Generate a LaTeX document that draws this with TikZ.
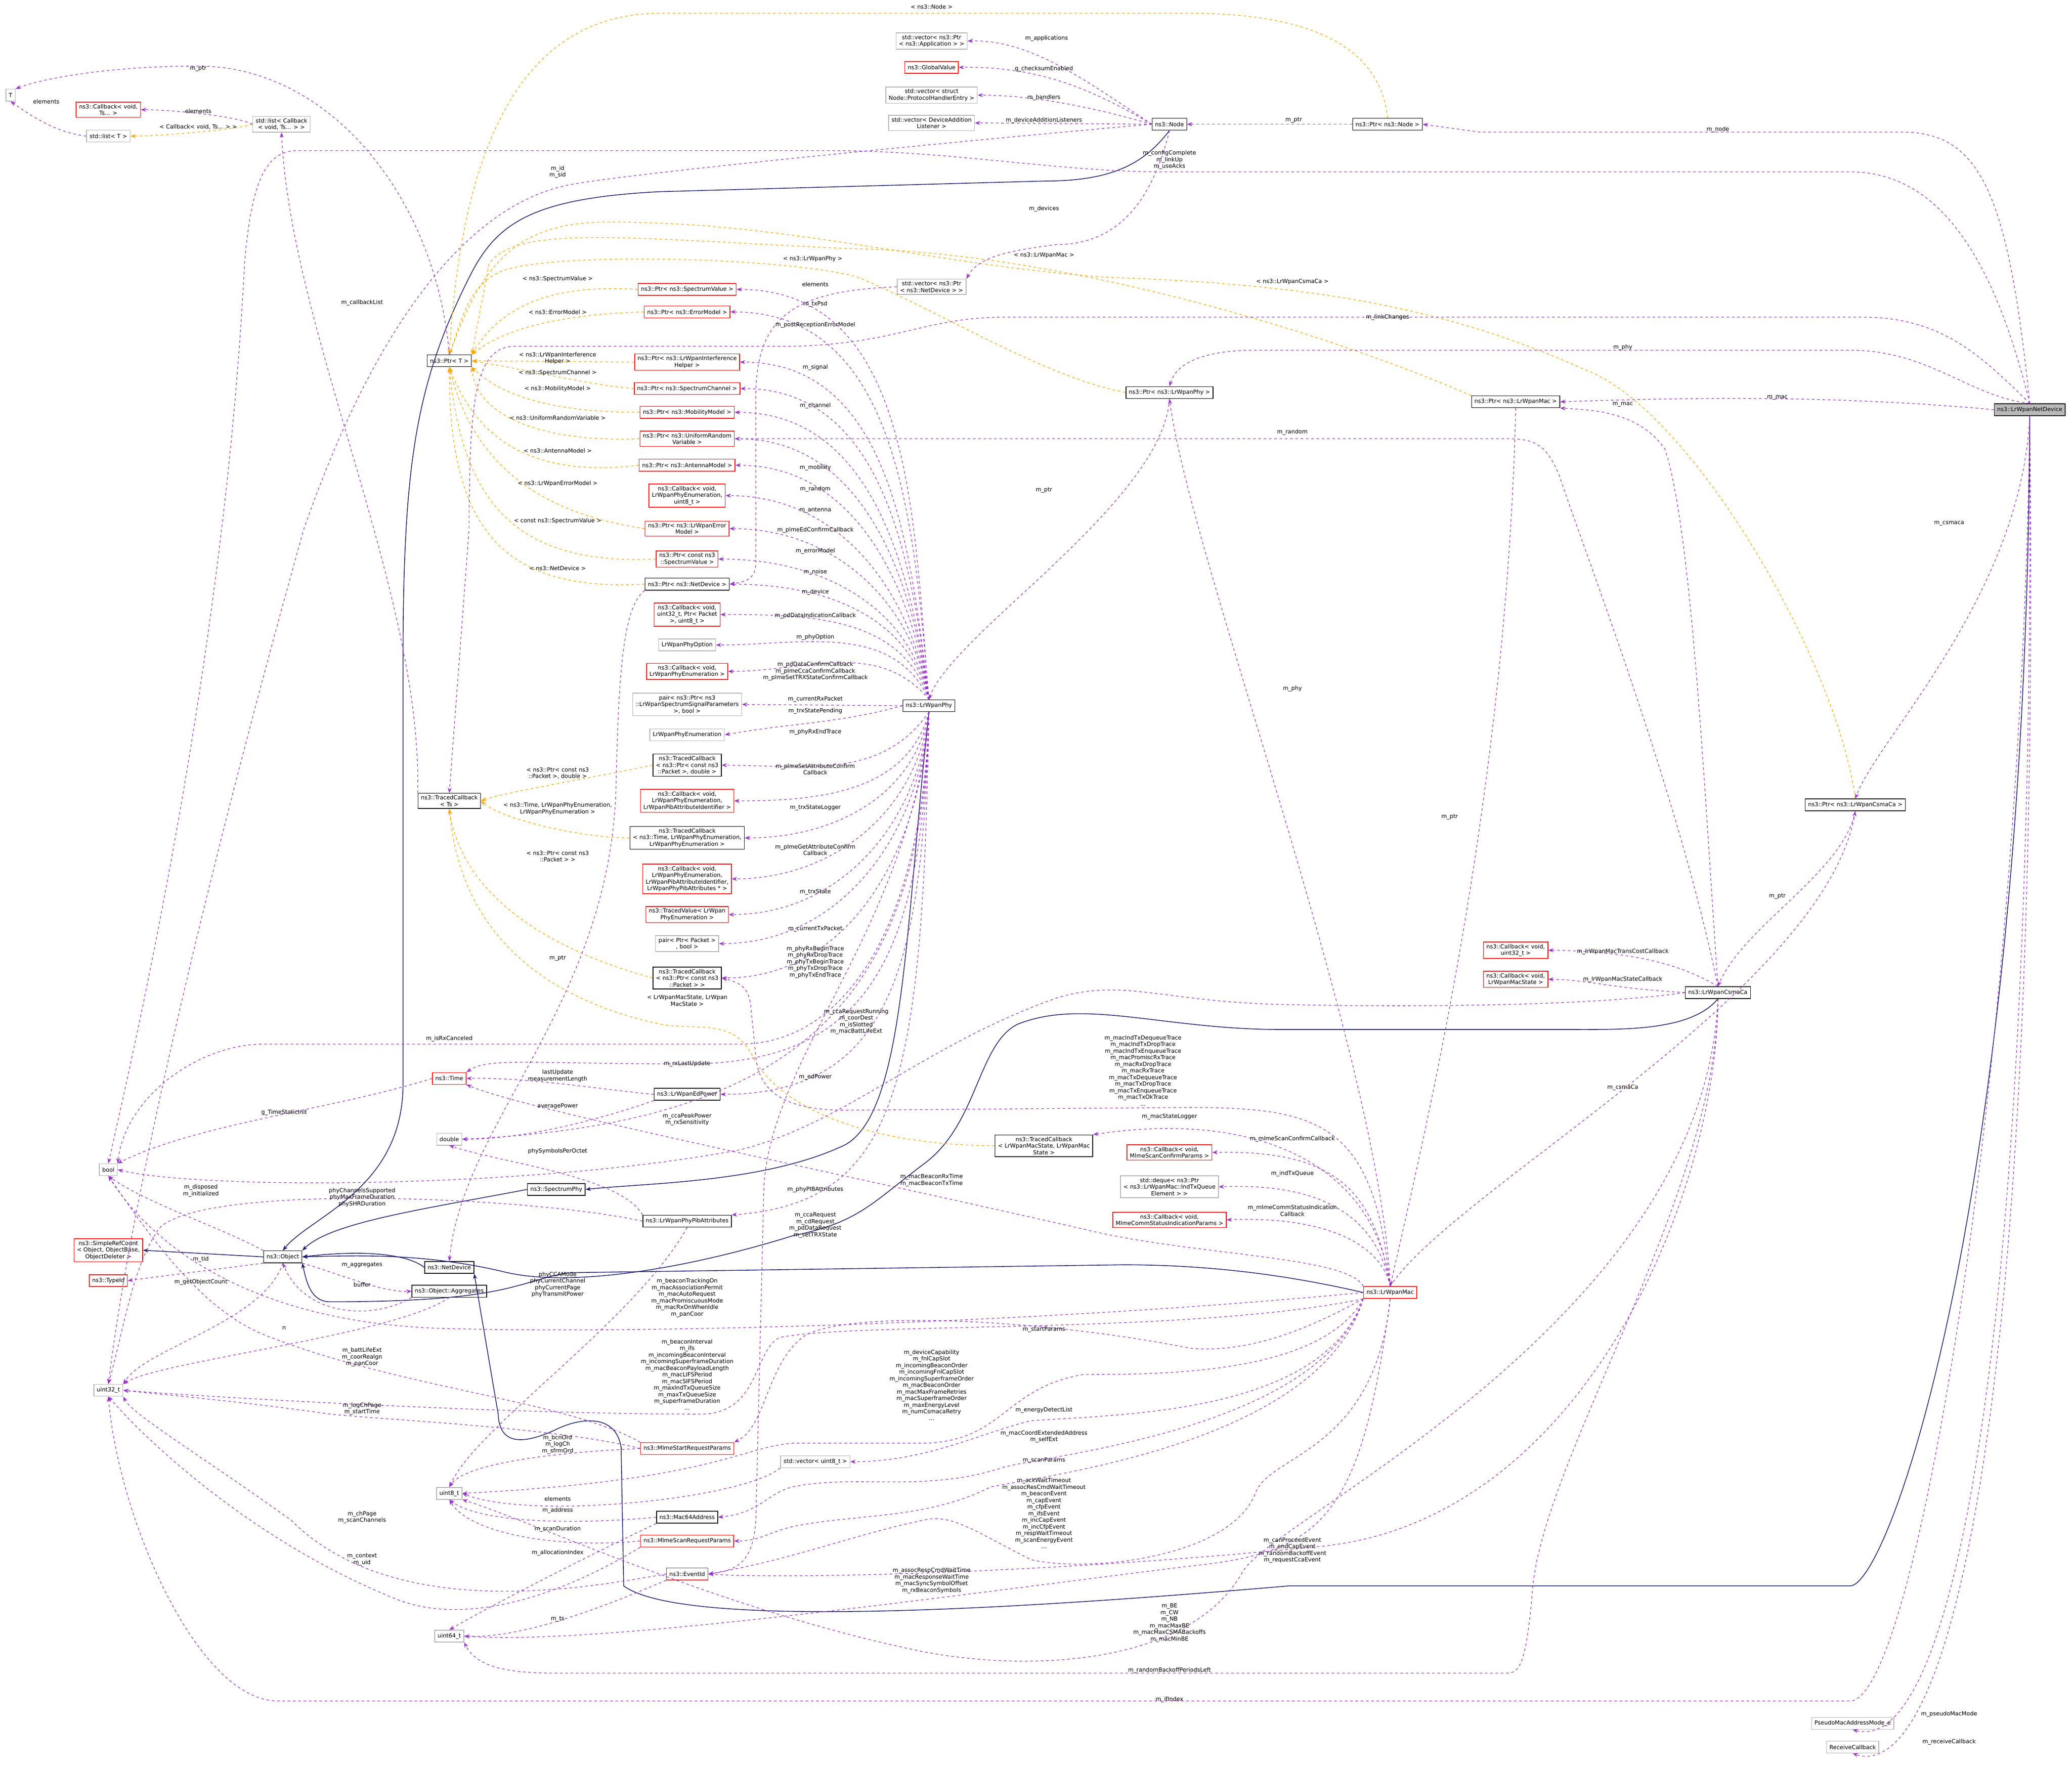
\documentclass[tikz,border=0pt]{standalone}
\usepackage{fontspec}
\setmainfont{DejaVu Sans}
\usetikzlibrary{arrows.meta}
\definecolor{purp}{HTML}{9A32CD}
\definecolor{orng}{HTML}{FFA500}
\definecolor{navyc}{HTML}{191970}
\tikzset{
  every node/.style={font=\fontsize{4.3}{5}\selectfont},
  box/.style={draw=black,fill=white,align=center,inner xsep=2.2pt,inner ysep=1.6pt,minimum height=9pt,line width=0.5pt},
  rbox/.style={box,draw=red},
  gbox/.style={box,draw=gray!60},
  lab/.style={align=center,inner sep=0pt},
  mem/.style={purp,dash pattern=on 2pt off 2pt,line width=0.45pt,-{Stealth[length=4pt,width=3pt]}},
  inst/.style={orng,dash pattern=on 2pt off 2pt,line width=0.45pt,-{Stealth[length=4pt,width=3pt]}},
  inh/.style={navyc,line width=0.55pt,-{Stealth[length=4pt,width=3pt]}},
}
\begin{document}
\begin{tikzpicture}[x=1pt,y=-1pt]
\useasboundingbox (0,0) rectangle (1568,1336);
% ---------------- nodes
\node[gbox] (T) at (8,72) {T};
\node[rbox] (CbTs) at (82,83) {ns3::Callback< void,\\ Ts... >};
\node[gbox] (listT) at (82,103) {std::list< T >};
\node[gbox] (listCb) at (213,94) {std::list< Callback\\< void, Ts... > >};
\node[gbox] (vecApp) at (705,31) {std::vector< ns3::Ptr\\< ns3::Application > >};
\node[rbox] (GV) at (705,51) {ns3::GlobalValue};
\node[gbox] (Proto) at (705,72) {std::vector< struct\\ Node::ProtocolHandlerEntry >};
\node[gbox] (DevAdd) at (705,93) {std::vector< DeviceAddition\\Listener >};
\node[box] (Node) at (885,94) {ns3::Node};
\node[box] (PtrNode) at (1050,94) {ns3::Ptr< ns3::Node >};
\node[gbox] (vecND) at (705,217) {std::vector< ns3::Ptr\\< ns3::NetDevice > >};
\node[rbox] (PtrSV) at (520,219) {ns3::Ptr< ns3::SpectrumValue >};
\node[rbox] (PtrErr) at (520,236) {ns3::Ptr< ns3::ErrorModel >};
\node[box] (PtrT) at (340,273) {ns3::Ptr< T >};
\node[rbox] (PtrInt) at (520,274) {ns3::Ptr< ns3::LrWpanInterference\\Helper >};
\node[rbox] (PtrChan) at (520,294) {ns3::Ptr< ns3::SpectrumChannel >};
\node[rbox] (PtrMob) at (520,312) {ns3::Ptr< ns3::MobilityModel >};
\node[rbox] (PtrURV) at (520,332) {ns3::Ptr< ns3::UniformRandom\\Variable >};
\node[rbox] (PtrAnt) at (520,352) {ns3::Ptr< ns3::AntennaModel >};
\node[rbox] (CbU8) at (520,375) {ns3::Callback< void,\\ LrWpanPhyEnumeration,\\ uint8\_t >};
\node[rbox] (PtrLrErr) at (520,400) {ns3::Ptr< ns3::LrWpanError\\Model >};
\node[rbox] (PtrCSV) at (520,423) {ns3::Ptr< const ns3\\::SpectrumValue >};
\node[box] (PtrND) at (520,442) {ns3::Ptr< ns3::NetDevice >};
\node[rbox] (CbU32) at (520,465) {ns3::Callback< void,\\ uint32\_t, Ptr< Packet\\ >, uint8\_t >};
\node[gbox] (PhyOpt) at (520,488) {LrWpanPhyOption};
\node[rbox] (CbEnum) at (520,508) {ns3::Callback< void,\\ LrWpanPhyEnumeration >};
\node[gbox] (pairSig) at (520,533) {pair< ns3::Ptr< ns3\\::LrWpanSpectrumSignalParameters\\ >, bool >};
\node[gbox] (PhyEnum) at (520,556) {LrWpanPhyEnumeration};
\node[box] (TCPD) at (520,579) {ns3::TracedCallback\\< ns3::Ptr< const ns3\\::Packet >, double >};
\node[box] (TCTs) at (340,606) {ns3::TracedCallback\\< Ts >};
\node[rbox] (CbPib) at (520,606) {ns3::Callback< void,\\ LrWpanPhyEnumeration,\\ LrWpanPibAttributeIdentifier >};
\node[box] (TCTime) at (520,634) {ns3::TracedCallback\\< ns3::Time, LrWpanPhyEnumeration,\\ LrWpanPhyEnumeration >};
\node[rbox] (CbPibA) at (520,665) {ns3::Callback< void,\\ LrWpanPhyEnumeration,\\ LrWpanPibAttributeIdentifier,\\ LrWpanPhyPibAttributes * >};
\node[rbox] (TV) at (520,692) {ns3::TracedValue< LrWpan\\PhyEnumeration >};
\node[gbox] (pairPkt) at (520,714) {pair< Ptr< Packet >\\, bool >};
\node[box] (TCPkt) at (520,740) {ns3::TracedCallback\\< ns3::Ptr< const ns3\\::Packet > >};
\node[box] (Phy) at (703,534) {ns3::LrWpanPhy};
\node[box] (PtrPhy) at (885,297) {ns3::Ptr< ns3::LrWpanPhy >};
\node[box] (PtrMac) at (1147,304) {ns3::Ptr< ns3::LrWpanMac >};
\node[box,fill=gray!55] (Dev) at (1536,310) {ns3::LrWpanNetDevice};
\node[box] (PtrCsma) at (1404,609) {ns3::Ptr< ns3::LrWpanCsmaCa >};
\node[rbox] (CbTrans) at (1147,719) {ns3::Callback< void,\\ uint32\_t >};
\node[rbox] (CbMS) at (1147,741) {ns3::Callback< void,\\ LrWpanMacState >};
\node[box] (Csma) at (1300,751) {ns3::LrWpanCsmaCa};
\node[rbox] (Time) at (340,816) {ns3::Time};
\node[box] (EdP) at (520,828) {ns3::LrWpanEdPower};
\node[gbox] (dbl) at (340,862) {double};
\node[box] (TCMac) at (790,867) {ns3::TracedCallback\\< LrWpanMacState, LrWpanMac\\ State >};
\node[rbox] (CbScan) at (885,872) {ns3::Callback< void,\\ MlmeScanConfirmParams >};
\node[gbox] (deque) at (885,898) {std::deque< ns3::Ptr\\< ns3::LrWpanMac::IndTxQueue\\ Element > >};
\node[rbox] (CbComm) at (885,923) {ns3::Callback< void,\\ MlmeCommStatusIndicationParams >};
\node[gbox] (bool) at (82,885) {bool};
\node[box] (SPhy) at (421,900) {ns3::SpectrumPhy};
\node[box] (Pib) at (520,924) {ns3::LrWpanPhyPibAttributes};
\node[rbox] (SRC) at (82,946) {ns3::SimpleRefCount\\< Object, ObjectBase,\\ ObjectDeleter >};
\node[rbox] (TypeId) at (82,969) {ns3::TypeId};
\node[box] (Obj) at (214,951) {ns3::Object};
\node[box] (NetDev) at (340,959) {ns3::NetDevice};
\node[box] (Agg) at (340,977) {ns3::Object::Aggregates};
\node[rbox] (Mac) at (1052,978) {ns3::LrWpanMac};
\node[gbox] (u32) at (82,1052) {uint32\_t};
\node[rbox] (MStart) at (520,1096) {ns3::MlmeStartRequestParams};
\node[gbox] (vecU8) at (617,1106) {std::vector< uint8\_t >};
\node[gbox] (u8) at (340,1130) {uint8\_t};
\node[box] (M64) at (520,1148) {ns3::Mac64Address};
\node[rbox] (MScan) at (520,1166) {ns3::MlmeScanRequestParams};
\node[rbox] (Ev) at (520,1191) {ns3::EventId};
\node[gbox] (u64) at (340,1238) {uint64\_t};
\node[gbox] (Pseudo) at (1402,1304) {PseudoMacAddressMode\_e};
\node[gbox] (Recv) at (1402,1322) {ReceiveCallback};

% ---------------- inheritance
\draw[inh] (Node.south) .. controls (865,125) and (840,137) .. (790,137) -- (500,145) .. controls (400,150) and (375,170) .. (355,210) .. controls (315,290) and (305,350) .. (305,500) -- (305,820) .. controls (305,900) and (235,920) .. (Obj.north);
\draw[inh] (Phy.south) .. controls (685,700) and (685,840) .. (640,866) .. controls (580,895) and (490,895) .. (SPhy.east);
\draw[inh] (SPhy.west) .. controls (320,915) and (250,925) .. (Obj.north east);
\draw[inh] (Csma.south) .. controls (1280,780) and (1230,779) .. (1190,779) -- (970,779) .. controls (880,779) and (820,755) .. (770,775) .. controls (740,790) and (740,850) .. (700,880) .. controls (660,910) and (650,925) .. (600,935) .. controls (520,960) and (430,975) .. (380,962) .. controls (320,948) and (270,950) .. (Obj.east);
\draw[inh] (Mac.west) .. controls (980,966) and (920,957) .. (850,957) -- (430,963) .. controls (390,970) and (385,985) .. (250,985) .. controls (235,985) and (232,970) .. (Obj.south east);
\draw[inh] (NetDev.west) .. controls (310,950) and (280,945) .. (Obj.east);
\draw[inh] (Obj.west) -- (SRC.east);
\draw[inh] (Dev.south) .. controls (1534,900) and (1430,1200) .. (1400,1200) -- (975,1200) .. controls (800,1215) and (520,1235) .. (472,1200) -- (470,1095) .. controls (466,1070) and (440,1072) .. (420,1082) .. controls (398,1092) and (378,1095) .. (377,1070) -- (NetDev.south east);

% ---------------- template instances (orange)
\draw[inst] (PtrNode.north) .. controls (1045,40) and (1000,10) .. (900,10) -- (500,10) .. controls (400,10) and (350,100) .. (PtrT.north);
\draw[inst] (PtrPhy.west) .. controls (790,285) and (720,240) .. (650,210) .. controls (600,195) and (420,190) .. (380,205) .. controls (355,215) and (350,240) .. (PtrT.north);
\draw[inst] (PtrMac.north west) .. controls (1000,250) and (800,190) .. (640,188) .. controls (470,180) and (390,170) .. (370,200) -- (PtrT.north east);
\draw[inst] (PtrCsma.north) .. controls (1390,500) and (1280,310) .. (1200,280) .. controls (1100,235) and (1000,215) .. (840,210) .. controls (700,200) and (600,168) .. (460,168) .. controls (390,168) and (365,200) .. (PtrT.north);
\draw[inst] (PtrSV.west) .. controls (420,215) and (380,230) .. (PtrT.north east);
\draw[inst] (PtrErr.west) .. controls (420,238) and (380,250) .. (PtrT.north east);
\draw[inst] (PtrInt.west) -- (PtrT.east);
\draw[inst] (PtrChan.west) .. controls (450,292) and (400,280) .. (PtrT.east);
\draw[inst] (PtrMob.west) .. controls (420,312) and (380,300) .. (PtrT.south east);
\draw[inst] (PtrURV.west) .. controls (400,335) and (360,310) .. (PtrT.south east);
\draw[inst] (PtrAnt.west) .. controls (400,362) and (360,330) .. (PtrT.south);
\draw[inst] (PtrLrErr.west) .. controls (420,390) and (360,360) .. (PtrT.south);
\draw[inst] (PtrCSV.west) .. controls (390,428) and (350,380) .. (PtrT.south);
\draw[inst] (PtrND.west) .. controls (380,448) and (340,400) .. (PtrT.south);
\draw[inst] (TCPD.west) .. controls (440,590) and (380,600) .. (TCTs.east);
\draw[inst] (TCTime.west) .. controls (440,634) and (380,620) .. (TCTs.east);
\draw[inst] (TCPkt.west) .. controls (420,720) and (350,680) .. (TCTs.south);
\draw[inst] (TCMac.west) .. controls (640,866) and (585,830) .. (570,800) .. controls (555,770) and (530,780) .. (500,775) .. controls (430,760) and (350,720) .. (TCTs.south);
\draw[inst] (listCb.west) .. controls (180,98) and (120,103) .. (listT.east);

% ---------------- members (purple)
\draw[mem] (PtrT.north) .. controls (330,150) and (250,50) .. (150,50) .. controls (80,50) and (30,60) .. (T.north east);
\draw[mem] (listCb.west) .. controls (180,88) and (130,83) .. (CbTs.east);
\draw[mem] (listT.west) .. controls (40,100) and (20,85) .. (T.south);
\draw[mem] (TCTs.north west) .. controls (320,450) and (220,250) .. (listCb.south);
\draw[mem] (Node.west) .. controls (820,60) and (780,30) .. (vecApp.east);
\draw[mem] (Node.west) .. controls (830,70) and (790,50) .. (GV.east);
\draw[mem] (Node.west) .. controls (840,85) and (790,72) .. (Proto.east);
\draw[mem] (Node.west) -- (DevAdd.east);
\draw[mem] (PtrNode.west) -- (Node.east);
\draw[mem] (Node.south) .. controls (870,160) and (840,185) .. (800,185) .. controls (760,190) and (740,195) .. (vecND.north east);
\draw[mem] (Node.west) .. controls (800,100) and (480,130) .. (430,140) .. controls (380,150) and (300,200) .. (230,400) .. controls (160,650) and (100,900) .. (u32.north);
\draw[mem] (Dev.north) .. controls (1520,150) and (1500,100) .. (1440,100) -- (1120,100) -- (PtrNode.east);
\draw[mem] (Dev.north) .. controls (1510,200) and (1470,130) .. (1400,130) -- (880,130) .. controls (800,130) and (720,114) .. (630,114) -- (225,114) .. controls (200,114) and (190,140) .. (185,200) .. controls (170,500) and (100,800) .. (bool.north);
\draw[mem] (Dev.north) .. controls (1500,270) and (1470,240) .. (1410,240) -- (760,240) .. controls (700,240) and (680,260) .. (600,262) -- (390,262) .. controls (360,262) and (355,300) .. (355,400) -- (TCTs.north);
\draw[mem] (Dev.north) .. controls (1490,300) and (1460,265) .. (1400,265) -- (950,265) .. controls (910,265) and (890,275) .. (PtrPhy.north);
\draw[mem] (Dev.west) .. controls (1400,300) and (1300,300) .. (PtrMac.east);
\draw[mem] (Dev.south) .. controls (1530,450) and (1420,560) .. (PtrCsma.north);
\draw[mem] (Dev.south) .. controls (1530,800) and (1450,1287) .. (1400,1287) -- (210,1287) .. controls (150,1287) and (90,1150) .. (u32.south);
\draw[mem] (Dev.south) .. controls (1540,1000) and (1480,1330) .. (Pseudo.south);
\draw[mem] (Dev.south) .. controls (1545,1100) and (1470,1350) .. (Recv.south);
\draw[mem] (vecND.west) .. controls (600,220) and (572,240) .. (572,300) -- (572,425) .. controls (572,438) and (565,440) .. (PtrND.east);
\draw[mem] (PtrND.south west) .. controls (470,460) and (468,520) .. (466,600) .. controls (460,760) and (350,850) .. (NetDev.north);
\draw[mem] (PtrPhy.south) .. controls (880,380) and (720,480) .. (Phy.north);
\draw[mem] (PtrMac.south) .. controls (1140,600) and (1080,850) .. (Mac.north);
\draw[mem] (PtrCsma.south) .. controls (1395,660) and (1320,700) .. (Csma.north);
% Phy members
\foreach \t/\o in {PtrSV/95,PtrErr/95,PtrInt/97,PtrChan/97,PtrMob/98,PtrURV/98,PtrAnt/99,CbU8/100,PtrLrErr/100,PtrCSV/102,PtrND/104,CbU32/108,PhyOpt/115,CbEnum/130}
  \draw[mem] (Phy.north) to[out=\o,in=0] (\t.east);
\draw[mem] (Phy.west) -- (pairSig.east);
\draw[mem] (Phy.west) to[out=195,in=10] (PhyEnum.east);
\foreach \t/\o in {TCPD/235,CbPib/255,TCTime/260,CbPibA/263,TV/265,pairPkt/266,TCPkt/267}
  \draw[mem] (Phy.south) to[out=\o,in=0] (\t.east);
\draw[mem] (Phy.south) .. controls (698,700) and (640,790) .. (560,790) -- (200,790) .. controls (150,790) and (95,830) .. (bool.north east);
\draw[mem] (Phy.south) .. controls (698,720) and (660,805) .. (520,805) .. controls (400,805) and (370,800) .. (Time.north east);
\draw[mem] (Phy.south) .. controls (698,720) and (680,828) .. (EdP.east);
\draw[mem] (Phy.south) .. controls (698,760) and (600,850) .. (dbl.east);
\draw[mem] (Phy.south) .. controls (698,820) and (680,910) .. (Pib.north east);
\draw[mem] (Phy.south) .. controls (690,700) and (582,800) .. (578,900) -- (572,1150) .. controls (570,1180) and (560,1188) .. (Ev.east);
\draw[mem] (EdP.west) .. controls (460,825) and (400,815) .. (Time.east);
\draw[mem] (EdP.south west) .. controls (460,845) and (400,862) .. (dbl.east);
\draw[mem] (Time.west) .. controls (250,840) and (150,850) .. (bool.north east);
\draw[mem] (Pib.west) .. controls (400,905) and (150,895) .. (120,930) .. controls (100,960) and (95,1000) .. (u32.north);
\draw[mem] (Pib.north west) .. controls (470,890) and (380,880) .. (dbl.south);
\draw[mem] (Pib.south) .. controls (480,1000) and (360,1080) .. (u8.north);
\draw[mem] (Obj.north west) .. controls (170,930) and (110,910) .. (bool.south);
\draw[mem] (Obj.south west) -- (TypeId.east);
\draw[mem] (Obj.south) .. controls (200,1000) and (110,1020) .. (u32.north east);
\draw[mem] (Obj.south east) .. controls (260,965) and (290,978) .. (Agg.west);
\draw[mem] (Agg.south west) .. controls (280,1000) and (230,995) .. (Obj.south);
\draw[mem] (Agg.south) .. controls (300,1010) and (120,1030) .. (u32.north east);
% CsmaCa members
\draw[mem] (Csma.north) .. controls (1270,600) and (1200,420) .. (1180,360) .. controls (1170,335) and (1160,332) .. (1140,332) -- (PtrURV.east);
\draw[mem] (Csma.north) .. controls (1290,600) and (1280,400) .. (1260,340) .. controls (1240,310) and (1200,310) .. (PtrMac.south east);
\draw[mem] (Csma.north) .. controls (1280,735) and (1250,720) .. (CbTrans.east);
\draw[mem] (Csma.west) .. controls (1220,748) and (1200,741) .. (CbMS.east);
\draw[mem] (Csma.west) .. controls (1200,762) and (1050,762) .. (970,760) .. controls (880,758) and (850,740) .. (800,755) .. controls (700,790) and (640,850) .. (560,870) .. controls (400,900) and (150,900) .. (bool.east);
\draw[mem] (Csma.south) .. controls (1300,900) and (1200,1150) .. (1000,1170) .. controls (800,1190) and (600,1195) .. (Ev.east);
\draw[mem] (Csma.south) .. controls (1290,1000) and (960,1150) .. (940,1190) .. controls (900,1260) and (780,1265) .. (700,1250) .. controls (550,1220) and (400,1150) .. (u8.south east);
\draw[mem] (Csma.south) .. controls (1300,900) and (1170,1100) .. (1160,1200) .. controls (1155,1260) and (1150,1266) .. (1140,1266) -- (420,1266) .. controls (380,1266) and (360,1260) .. (u64.south east);
% Mac members
\draw[mem] (Mac.north) .. controls (1045,800) and (900,420) .. (PtrPhy.south);
\draw[mem] (Mac.north) .. controls (1100,900) and (1380,750) .. (PtrCsma.south);
\draw[mem] (Mac.north) .. controls (1040,850) and (1000,838) .. (900,838) -- (640,840) .. controls (600,840) and (575,830) .. (572,800) -- (568,760) .. controls (566,748) and (562,744) .. (TCPkt.east);
\draw[mem] (Mac.north) .. controls (1040,880) and (950,840) .. (TCMac.north east);
\draw[mem] (Mac.north) .. controls (1040,900) and (1010,870) .. (CbScan.east);
\draw[mem] (Mac.north) .. controls (1042,920) and (1000,895) .. (deque.east);
\draw[mem] (Mac.north) .. controls (1045,940) and (1000,920) .. (CbComm.east);
\draw[mem] (Mac.north west) .. controls (1020,950) and (900,950) .. (820,930) .. controls (600,880) and (400,840) .. (Time.south east);
\draw[mem] (Mac.west) .. controls (800,1000) and (500,1010) .. (330,1005) .. controls (200,1000) and (120,950) .. (bool.south);
\draw[mem] (Mac.south west) .. controls (1000,1000) and (950,1025) .. (900,1020) .. controls (800,1000) and (650,990) .. (610,1010) .. controls (580,1030) and (580,1080) .. (MStart.north east);
\draw[mem] (Mac.south west) .. controls (900,1010) and (650,1000) .. (590,1012) .. controls (570,1022) and (575,1070) .. (530,1070) .. controls (400,1070) and (200,1060) .. (u32.east);
\draw[mem] (Mac.south west) .. controls (1000,1040) and (880,1040) .. (820,1040) .. controls (760,1050) and (760,1090) .. (700,1092) -- (600,1092) .. controls (560,1095) and (540,1120) .. (u8.east);
\draw[mem] (Mac.south west) .. controls (1000,1070) and (850,1070) .. (780,1075) .. controls (740,1085) and (700,1106) .. (vecU8.east);
\draw[mem] (Mac.south west) .. controls (1000,1080) and (800,1100) .. (760,1110) .. controls (700,1130) and (650,1115) .. (600,1125) .. controls (580,1130) and (575,1145) .. (M64.east);
\draw[mem] (Mac.south west) .. controls (1000,1090) and (800,1115) .. (750,1125) .. controls (700,1150) and (650,1145) .. (600,1155) .. controls (580,1160) and (575,1166) .. (MScan.east);
\draw[mem] (Mac.south) .. controls (1040,1100) and (960,1100) .. (950,1130) .. controls (930,1180) and (820,1190) .. (780,1180) .. controls (740,1160) and (720,1145) .. (700,1150) .. controls (650,1160) and (600,1180) .. (Ev.east);
\draw[mem] (Mac.south) .. controls (1030,1150) and (1000,1175) .. (900,1185) .. controls (700,1210) and (450,1245) .. (u64.east);
% params / misc
\draw[mem] (MStart.north west) .. controls (430,1060) and (300,1050) .. (200,1010) .. controls (150,990) and (110,930) .. (bool.south);
\draw[mem] (MStart.west) .. controls (420,1080) and (300,1075) .. (250,1070) .. controls (180,1060) and (120,1055) .. (u32.east);
\draw[mem] (MStart.west) .. controls (400,1100) and (350,1110) .. (u8.north);
\draw[mem] (vecU8.south west) .. controls (560,1135) and (400,1150) .. (u8.east);
\draw[mem] (M64.west) .. controls (420,1155) and (360,1150) .. (u8.south);
\draw[mem] (MScan.west) .. controls (420,1172) and (355,1160) .. (u8.south);
\draw[mem] (MScan.south west) .. controls (420,1210) and (350,1230) .. (300,1210) .. controls (200,1170) and (120,1100) .. (u32.south);
\draw[mem] (M64.south west) .. controls (460,1170) and (380,1210) .. (u64.north);
\draw[mem] (Ev.west) .. controls (450,1200) and (300,1230) .. (220,1150) .. controls (150,1100) and (100,1070) .. (u32.south east);
\draw[mem] (Ev.south west) .. controls (470,1210) and (400,1240) .. (u64.east);

% ---------------- labels
\node[lab] (l1) at (705,5) {< ns3::Node >};
\node[lab] (l2) at (792,29) {m\_applications};
\node[lab] (l3) at (790,52) {g\_checksumEnabled};
\node[lab] (l4) at (790,74) {m\_handlers};
\node[lab] (l5) at (790,91) {m\_deviceAdditionListeners};
\node[lab] (l6) at (979,91) {m\_ptr};
\node[lab] (l7) at (1300,98) {m\_node};
\node[lab] (l8) at (885,121) {m\_configComplete\\m\_linkUp\\m\_useAcks};
\node[lab] (l9) at (422,130) {m\_id\\m\_sid};
\node[lab] (l10) at (790,158) {m\_devices};
\node[lab] (l11) at (615,196) {< ns3::LrWpanPhy >};
\node[lab] (l12) at (790,193) {< ns3::LrWpanMac >};
\node[lab] (l13) at (978,213) {< ns3::LrWpanCsmaCa >};
\node[lab] (l14) at (617,215) {elements};
\node[lab] (l15) at (617,230) {m\_txPsd};
\node[lab] (l16) at (617,246) {m\_postReceptionErrorModel};
\node[lab] (l17) at (1050,240) {m\_linkChanges};
\node[lab] (l18) at (1228,263) {m\_phy};
\node[lab] (l19) at (617,278) {m\_signal};
\node[lab] (l20) at (1345,301) {m\_mac};
\node[lab] (l21) at (1228,306) {m\_mac};
\node[lab] (l22) at (978,327) {m\_random};
\node[lab] (l23) at (617,307) {m\_channel};
\node[lab] (l24) at (617,354) {m\_mobility};
\node[lab] (l25) at (617,370) {m\_random};
\node[lab] (l26) at (617,386) {m\_antenna};
\node[lab] (l27) at (617,401) {m\_plmeEdConfirmCallback};
\node[lab] (l28) at (617,417) {m\_errorModel};
\node[lab] (l29) at (617,433) {m\_noise};
\node[lab] (l30) at (617,448) {m\_device};
\node[lab] (l31) at (617,466) {m\_pdDataIndicationCallback};
\node[lab] (l32) at (617,482) {m\_phyOption};
\node[lab] (l33) at (617,508) {m\_pdDataConfirmCallback\\m\_plmeCcaConfirmCallback\\m\_plmeSetTRXStateConfirmCallback};
\node[lab] (l34) at (617,529) {m\_currentRxPacket};
\node[lab] (l35) at (617,538) {m\_trxStatePending};
\node[lab] (l36) at (617,554) {m\_phyRxEndTrace};
\node[lab] (l37) at (617,582) {m\_plmeSetAttributeConfirm\\Callback};
\node[lab] (l38) at (617,611) {m\_trxStateLogger};
\node[lab] (l39) at (617,643) {m\_plmeGetAttributeConfirm\\Callback};
\node[lab] (l40) at (617,675) {m\_trxState};
\node[lab] (l41) at (617,703) {m\_currentTxPacket};
\node[lab] (l42) at (617,728) {m\_phyRxBeginTrace\\m\_phyRxDropTrace\\m\_phyTxBeginTrace\\m\_phyTxDropTrace\\m\_phyTxEndTrace};
\node[lab] (l43) at (648,773) {m\_ccaRequestRunning\\m\_coorDest\\m\_isSlotted\\m\_macBattLifeExt};
\node[lab] (l44) at (865,810) {m\_macIndTxDequeueTrace\\m\_macIndTxDropTrace\\m\_macIndTxEnqueueTrace\\m\_macPromiscRxTrace\\m\_macRxDropTrace\\m\_macRxTrace\\m\_macTxDequeueTrace\\m\_macTxDropTrace\\m\_macTxEnqueueTrace\\m\_macTxOkTrace\\...};
\node[lab] (l45) at (520,805) {m\_rxLastUpdate};
\node[lab] (l46) at (617,815) {m\_edPower};
\node[lab] (l47) at (340,786) {m\_isRxCanceled};
\node[lab] (l48) at (422,814) {lastUpdate\\measurementLength};
\node[lab] (l49) at (422,837) {averagePower};
\node[lab] (l50) at (520,847) {m\_ccaPeakPower\\m\_rxSensitivity};
\node[lab] (l51) at (885,845) {m\_macStateLogger};
\node[lab] (l52) at (978,862) {m\_mlmeScanConfirmCallback};
\node[lab] (l53) at (978,888) {m\_indTxQueue};
\node[lab] (l54) at (978,916) {m\_mlmeCommStatusIndication\\Callback};
\node[lab] (l55) at (705,893) {m\_macBeaconRxTime\\m\_macBeaconTxTime};
\node[lab] (l56) at (215,842) {g\_TimeStaticInit};
\node[lab] (l57) at (422,871) {phySymbolsPerOctet};
\node[lab] (l58) at (617,900) {m\_phyPIBAttributes};
\node[lab] (l59) at (152,901) {m\_disposed\\m\_initialized};
\node[lab] (l60) at (274,906) {phyChannelsSupported\\phyMaxFrameDuration\\phySHRDuration};
\node[lab] (l61) at (617,927) {m\_ccaRequest\\m\_cdRequest\\m\_pdDataRequest\\m\_setTRXState};
\node[lab] (l62) at (152,953) {m\_tid};
\node[lab] (l63) at (274,957) {m\_aggregates};
\node[lab] (l64) at (152,970) {m\_getObjectCount};
\node[lab] (l65) at (274,972) {buffer};
\node[lab] (l66) at (422,972) {phyCCAMode\\phyCurrentChannel\\phyCurrentPage\\phyTransmitPower};
\node[lab] (l67) at (520,982) {m\_beaconTrackingOn\\m\_macAssociationPermit\\m\_macAutoRequest\\m\_macPromiscuousMode\\m\_macRxOnWhenIdle\\m\_panCoor};
\node[lab] (l68) at (215,1005) {n};
\node[lab] (l69) at (790,1006) {m\_startParams};
\node[lab] (l70) at (520,1040) {m\_beaconInterval\\m\_ifs\\m\_incomingBeaconInterval\\m\_incomingSuperframeDuration\\m\_macBeaconPayloadLength\\m\_macLIFSPeriod\\m\_macSIFSPeriod\\m\_maxIndTxQueueSize\\m\_maxTxQueueSize\\m\_superframeDuration\\...};
\node[lab] (l71) at (274,1027) {m\_battLifeExt\\m\_coorRealgn\\m\_panCoor};
\node[lab] (l72) at (705,1048) {m\_deviceCapability\\m\_fnlCapSlot\\m\_incomingBeaconOrder\\m\_incomingFnlCapSlot\\m\_incomingSuperframeOrder\\m\_macBeaconOrder\\m\_macMaxFrameRetries\\m\_macSuperframeOrder\\m\_maxEnergyLevel\\m\_numCsmacaRetry\\...};
\node[lab] (l73) at (790,1067) {m\_energyDetectList};
\node[lab] (l74) at (274,1066) {m\_logChPage\\m\_startTime};
\node[lab] (l75) at (422,1093) {m\_bcnOrd\\m\_logCh\\m\_sfrmOrd};
\node[lab] (l76) at (790,1087) {m\_macCoordExtendedAddress\\m\_selfExt};
\node[lab] (l77) at (422,1134) {elements};
\node[lab] (l78) at (790,1105) {m\_scanParams};
\node[lab] (l79) at (422,1143) {m\_address};
\node[lab] (l80) at (274,1148) {m\_chPage\\m\_scanChannels};
\node[lab] (l81) at (790,1145) {m\_ackWaitTimeout\\m\_assocResCmdWaitTimeout\\m\_beaconEvent\\m\_capEvent\\m\_cfpEvent\\m\_ifsEvent\\m\_incCapEvent\\m\_incCfpEvent\\m\_respWaitTimeout\\m\_scanEnergyEvent\\...};
\node[lab] (l82) at (422,1157) {m\_scanDuration};
\node[lab] (l83) at (422,1175) {m\_allocationIndex};
\node[lab] (l84) at (978,1173) {m\_canProceedEvent\\m\_endCapEvent\\m\_randomBackoffEvent\\m\_requestCcaEvent};
\node[lab] (l85) at (274,1180) {m\_context\\m\_uid};
\node[lab] (l86) at (705,1196) {m\_assocRespCmdWaitTime\\m\_macResponseWaitTime\\m\_macSyncSymbolOffset\\m\_rxBeaconSymbols};
\node[lab] (l87) at (885,1228) {m\_BE\\m\_CW\\m\_NB\\m\_macMaxBE\\m\_macMaxCSMABackoffs\\m\_macMinBE};
\node[lab] (l88) at (422,1225) {m\_ts};
\node[lab] (l89) at (885,1264) {m\_randomBackoffPeriodsLeft};
\node[lab] (l90) at (885,1286) {m\_ifIndex};
\node[lab] (l91) at (1475,1297) {m\_pseudoMacMode};
\node[lab] (l92) at (1475,1318) {m\_receiveCallback};
\node[lab] (l93) at (1345,678) {m\_ptr};
\node[lab] (l94) at (1228,720) {m\_lrWpanMacTransCostCallback};
\node[lab] (l95) at (1228,741) {m\_lrWpanMacStateCallback};
\node[lab] (l96) at (1475,396) {m\_csmaca};
\node[lab] (l97) at (1228,823) {m\_csmaCa};
\node[lab] (l98) at (978,521) {m\_phy};
\node[lab] (l99) at (1097,618) {m\_ptr};
\node[lab] (l100) at (790,371) {m\_ptr};
\node[lab] (l101) at (422,725) {m\_ptr};
\node[lab] (l102) at (274,229) {m\_callbackList};
\node[lab] (l103) at (150,52) {m\_ptr};
\node[lab] (l104) at (35,77) {elements};
\node[lab] (l105) at (150,84) {elements};
\node[lab] (l106) at (150,96) {< Callback< void, Ts... > >};
\node[lab] (l107) at (422,211) {< ns3::SpectrumValue >};
\node[lab] (l108) at (422,236) {< ns3::ErrorModel >};
\node[lab] (l109) at (422,271) {< ns3::LrWpanInterference\\Helper >};
\node[lab] (l110) at (422,282) {< ns3::SpectrumChannel >};
\node[lab] (l111) at (422,294) {< ns3::MobilityModel >};
\node[lab] (l112) at (422,316) {< ns3::UniformRandomVariable >};
\node[lab] (l113) at (422,341) {< ns3::AntennaModel >};
\node[lab] (l114) at (422,366) {< ns3::LrWpanErrorModel >};
\node[lab] (l115) at (422,394) {< const ns3::SpectrumValue >};
\node[lab] (l116) at (422,430) {< ns3::NetDevice >};
\node[lab] (l117) at (422,585) {< ns3::Ptr< const ns3\\::Packet >, double >};
\node[lab] (l118) at (422,612) {< ns3::Time, LrWpanPhyEnumeration,\\LrWpanPhyEnumeration >};
\node[lab] (l119) at (422,648) {< ns3::Ptr< const ns3\\::Packet > >};
\node[lab] (l120) at (520,757) {< LrWpanMacState, LrWpan\\MacState >};
\end{tikzpicture}
\end{document}
